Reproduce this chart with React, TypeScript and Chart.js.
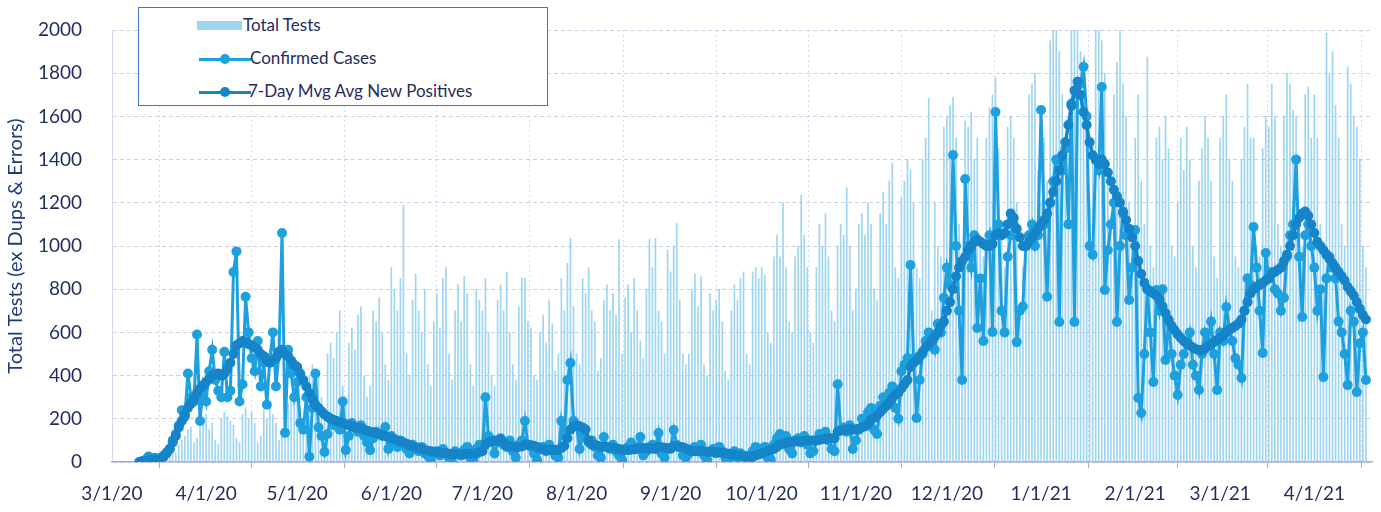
import React, { useEffect, useRef } from 'react';
import { Chart, registerables } from 'chart.js';

Chart.register(...registerables);

// x axis: day index counted from 3/1/20
const tickDays = [0, 31, 61, 92, 122, 153, 184, 214, 245, 275, 306, 337, 365, 396];
const tickLabels = ['3/1/20', '4/1/20', '5/1/20', '6/1/20', '7/1/20', '8/1/20', '9/1/20', '10/1/20', '11/1/20', '12/1/20', '1/1/21', '2/1/21', '3/1/21', '4/1/21'];
// first data day of each month block below (data begins 3/10/20)
const monthFirstDataDay = [9, 31, 61, 92, 122, 153, 184, 214, 245, 275, 306, 337, 365, 396];

const yTicks = [0, 200, 400, 600, 800, 1000, 1200, 1400, 1600, 1800, 2000];

const seriesNames = ['Total Tests', 'Confirmed Cases', '7-Day Mvg Avg New Positives'];

// daily values, one row per month (Mar 20 .. Apr 21)
const confirmedCases = [
  [0, 5, 10, 25, 15, 20, 10, 20, 30, 45, 60, 100, 130, 170, 240, 210, 410, 300, 280, 590, 190, 350],
  [280, 420, 520, 380, 330, 300, 510, 300, 330, 880, 975, 280, 360, 765, 600, 480, 420, 560, 350, 460, 265, 480, 600, 350, 500, 1060, 135, 520, 410, 300],
  [370, 180, 150, 300, 24, 250, 410, 160, 120, 46, 130, 200, 170, 180, 150, 280, 55, 120, 180, 160, 140, 170, 120, 90, 55, 110, 140, 130, 120, 162, 60],
  [120, 90, 70, 100, 80, 60, 40, 80, 60, 50, 70, 40, 30, 10, 40, 50, 30, 60, 40, 20, 0, 50, 40, 30, 55, 70, 20, 10, 60, 80],
  [60, 300, 120, 100, 40, 90, 110, 80, 70, 100, 50, 20, 80, 100, 190, 80, 70, 40, 10, 60, 70, 50, 80, 60, 30, 20, 190, 120, 380, 458, 190],
  [170, 60, 130, 110, 90, 100, 70, 30, 20, 116, 70, 60, 80, 50, 30, 10, 60, 70, 90, 60, 70, 116, 30, 50, 70, 80, 60, 134, 40, 20, 60],
  [60, 148, 80, 70, 30, 20, 40, 60, 70, 50, 80, 30, 10, 50, 60, 40, 70, 50, 20, 0, 30, 50, 20, 40, 30, 0, 5, 50, 70, 40],
  [60, 70, 20, 10, 80, 110, 130, 90, 120, 60, 40, 100, 110, 90, 120, 80, 40, 50, 100, 130, 120, 140, 100, 60, 50, 360, 150, 160, 140, 170, 60],
  [100, 150, 200, 180, 230, 250, 150, 130, 260, 300, 280, 320, 350, 250, 200, 420, 450, 480, 912, 480, 204, 380, 500, 560, 600, 580, 520, 640, 600, 760],
  [900, 820, 1421, 1000, 700, 380, 1310, 1000, 900, 1050, 620, 850, 560, 1000, 1050, 602, 1620, 1100, 700, 600, 950, 1050, 1100, 555, 700, 720, 1000, 1050, 1100, 1000, 1050],
  [1630, 1100, 765, 1200, 1300, 1400, 648, 1350, 1450, 1100, 1660, 648, 1700, 1750, 1830, 1600, 1000, 960, 1400, 1350, 1736, 796, 980, 1100, 1200, 648, 1000, 1150, 1050, 750, 900],
  [1074, 296, 227, 500, 800, 600, 370, 796, 700, 800, 472, 650, 500, 400, 310, 450, 500, 550, 600, 450, 400, 333, 500, 600, 550, 650, 500, 333],
  [600, 560, 718, 620, 560, 480, 450, 389, 700, 850, 820, 1088, 900, 700, 505, 968, 850, 880, 800, 780, 700, 760, 950, 1050, 1100, 1400, 950, 671, 1050, 1100, 1000],
  [900, 700, 800, 393, 850, 950, 900, 850, 650, 600, 500, 356, 700, 650, 324, 550, 600, 380],
];

const movingAvg = [
  [0, 2, 4, 8, 10, 12, 14, 18, 25, 40, 60, 90, 120, 160, 190, 220, 250, 270, 290, 320, 340, 355],
  [370, 385, 400, 405, 410, 400, 410, 430, 460, 500, 540, 550, 560, 555, 545, 540, 530, 520, 500, 490, 470, 460, 470, 480, 510, 520, 500, 490, 470, 450],
  [440, 410, 380, 350, 320, 290, 265, 250, 235, 220, 210, 200, 195, 190, 185, 180, 175, 170, 165, 160, 158, 155, 150, 145, 140, 137, 134, 130, 125, 120, 115],
  [110, 105, 100, 95, 90, 85, 78, 72, 68, 64, 60, 56, 52, 50, 48, 46, 44, 42, 40, 38, 36, 36, 35, 35, 36, 38, 38, 38, 40, 45],
  [50, 80, 90, 95, 100, 100, 105, 90, 75, 75, 72, 70, 70, 72, 80, 80, 78, 75, 70, 62, 58, 55, 55, 55, 55, 55, 65, 75, 110, 150, 165],
  [170, 165, 160, 150, 100, 80, 80, 75, 70, 72, 70, 68, 66, 62, 60, 55, 55, 55, 57, 58, 60, 65, 65, 63, 62, 62, 62, 70, 68, 66, 64],
  [64, 75, 72, 70, 68, 62, 55, 50, 50, 50, 52, 50, 48, 48, 47, 46, 45, 43, 40, 38, 35, 33, 30, 30, 28, 25, 25, 25, 30, 35],
  [40, 45, 50, 55, 60, 70, 80, 85, 90, 92, 95, 95, 95, 95, 100, 100, 100, 100, 100, 102, 105, 108, 110, 110, 110, 140, 145, 148, 150, 152, 150],
  [150, 155, 160, 165, 175, 195, 205, 215, 230, 245, 260, 275, 295, 310, 320, 340, 360, 380, 440, 460, 470, 490, 510, 530, 545, 560, 580, 600, 630, 650],
  [700, 740, 800, 860, 900, 930, 950, 980, 1000, 1020, 1030, 1020, 1010, 1000, 1000, 1010, 1050, 1060, 1050, 1060, 1100, 1150, 1130, 1080, 1040, 1000, 1000, 1020, 1040, 1060, 1080],
  [1100, 1120, 1150, 1200, 1250, 1300, 1350, 1420, 1480, 1560, 1650, 1720, 1760, 1700, 1620, 1560, 1480, 1420, 1400, 1380, 1400, 1380, 1340, 1300, 1260, 1230, 1200, 1160, 1120, 1080, 1040],
  [1000, 930, 870, 830, 800, 790, 780, 770, 750, 720, 690, 660, 630, 610, 590, 575, 560, 548, 538, 530, 522, 518, 520, 525, 535, 545, 555, 565],
  [575, 585, 600, 610, 620, 630, 640, 660, 700, 740, 780, 800, 810, 820, 830, 840, 850, 870, 880, 890, 900, 930, 960, 1000, 1050, 1100, 1130, 1150, 1160, 1140, 1100],
  [1060, 1020, 1000, 980, 960, 940, 920, 900, 880, 860, 840, 810, 790, 770, 740, 710, 680, 660],
];

const totalTests = [
  [0, 5, 10, 15, 10, 10, 20, 25, 30, 40, 50, 60, 40, 80, 100, 120, 150, 160, 90, 110, 200, 180],
  [220, 150, 180, 100, 80, 200, 230, 210, 190, 170, 110, 90, 220, 250, 200, 230, 180, 90, 120, 240, 200, 260, 220, 180, 100, 130, 250, 270, 300, 280],
  [400, 250, 200, 350, 400, 450, 380, 420, 300, 220, 500, 550, 480, 600, 700, 350, 280, 550, 620, 520, 680, 720, 400, 300, 350, 700, 650, 760, 600, 450, 380],
  [900, 800, 700, 850, 1190, 500, 400, 750, 870, 700, 600, 800, 450, 350, 650, 780, 620, 850, 900, 500, 380, 700, 820, 650, 860, 780, 450, 350, 800, 750],
  [700, 850, 600, 400, 350, 750, 820, 700, 880, 600, 450, 380, 720, 850, 850, 650, 620, 400, 380, 600, 680, 550, 750, 640, 420, 500, 850, 700, 920, 1036, 720],
  [500, 450, 850, 780, 900, 700, 650, 420, 480, 750, 820, 700, 780, 680, 1030, 500, 760, 820, 600, 850, 700, 560, 480, 800, 1030, 900, 1036, 700, 650, 500, 980],
  [880, 1000, 1105, 750, 500, 450, 500, 800, 870, 720, 857, 450, 400, 780, 700, 750, 800, 650, 420, 380, 700, 820, 750, 850, 880, 500, 450, 880, 900, 850],
  [900, 865, 600, 550, 950, 1050, 950, 1200, 900, 650, 600, 950, 1000, 1235, 1050, 900, 600, 550, 900, 1100, 1000, 1150, 950, 700, 650, 1000, 1100, 1050, 1270, 1000, 700],
  [800, 1100, 1150, 1050, 1200, 1100, 800, 750, 1150, 1250, 1100, 1300, 1384, 900, 850, 1222, 1300, 1400, 1350, 1200, 900, 850, 1400, 1500, 1685, 700, 1200, 1000, 950, 1550],
  [1600, 1650, 1690, 1500, 1100, 900, 1580, 1550, 1620, 1400, 1500, 1000, 950, 1500, 1640, 1700, 1780, 1450, 1050, 900, 1550, 1600, 1500, 1200, 700, 900, 1000, 1700, 1750, 1800, 1350],
  [1200, 1500, 1300, 1950, 2000, 2100, 1900, 1700, 1300, 1200, 2000, 2200, 2100, 1900, 1800, 1400, 1200, 1500, 2000, 2000, 1950, 1800, 1300, 1100, 1700, 1850, 2000, 1750, 1600, 1200, 1000],
  [1500, 1700, 1300, 1100, 1875, 1000, 900, 1500, 1550, 1400, 1600, 1450, 1000, 950, 1200, 1500, 1350, 1550, 1400, 1000, 900, 1300, 1450, 1600, 1500, 1300, 950, 850],
  [1500, 1600, 1700, 1400, 1300, 950, 900, 1400, 1550, 1750, 1500, 1500, 1000, 950, 1450, 1600, 1550, 1750, 1600, 1100, 1000, 1600, 1800, 1750, 1630, 1600, 1100, 1000, 1700, 1736, 1500],
  [1700, 1500, 1100, 1000, 1985, 1800, 1900, 1650, 1500, 1100, 1000, 1830, 1750, 1600, 1550, 1400, 1000, 900],
];

const BAR = 'rgba(140,206,240,0.85)';
const CASES = '#1e9fde';
const AVG = '#1584c8';
const NAVY = '#1f2c5c';
const FONT = 'Lato, "Open Sans", sans-serif';

function toPoints(months: number[][]) {
  const pts: { x: number; y: number }[] = [];
  months.forEach((vals, m) => {
    vals.forEach((v, i) => pts.push({ x: monthFirstDataDay[m] + i, y: v }));
  });
  return pts;
}

export default function App() {
  const ref = useRef<HTMLCanvasElement | null>(null);

  useEffect(() => {
    document.body.style.margin = '0';
    const canvas = ref.current;
    if (!canvas) return;
    const chart = new Chart(canvas, {
      type: 'bar',
      data: {
        datasets: [
          {
            type: 'line',
            label: seriesNames[2],
            data: toPoints(movingAvg),
            borderColor: AVG,
            backgroundColor: AVG,
            borderWidth: 3.5,
            pointRadius: 5,
            pointBorderWidth: 0,
            pointBackgroundColor: AVG,
            order: 0,
          },
          {
            type: 'line',
            label: seriesNames[1],
            data: toPoints(confirmedCases),
            borderColor: CASES,
            backgroundColor: CASES,
            borderWidth: 3,
            pointRadius: 5,
            pointBorderWidth: 0,
            pointBackgroundColor: CASES,
            order: 1,
          },
          {
            type: 'bar',
            label: seriesNames[0],
            data: toPoints(totalTests),
            backgroundColor: BAR,
            barThickness: 1,
            order: 2,
          },
        ] as any,
      },
      options: {
        responsive: false,
        animation: false,
        layout: { padding: { top: 30, right: 9, left: 0, bottom: 0 } },
        plugins: { legend: { display: false }, tooltip: { enabled: false } },
        scales: {
          x: {
            type: 'linear',
            min: 0,
            max: 415,
            offset: false,
            afterBuildTicks: (s: any) => {
              s.ticks = tickDays.map((v) => ({ value: v }));
            },
            afterFit: (s: any) => {
              s.height = 50;
            },
            ticks: {
              autoSkip: false,
              maxRotation: 0,
              minRotation: 0,
              padding: 14,
              color: NAVY,
              font: { family: FONT, size: 19 },
              callback: (v: any) => {
                const i = tickDays.indexOf(Number(v));
                return i >= 0 ? tickLabels[i] : '';
              },
            },
            grid: {
              color: 'rgba(185,185,225,0.55)',
              tickColor: 'rgba(160,160,215,0.9)',
              tickLength: 6,
              lineWidth: 1,
            },
            border: { display: true, color: 'rgba(160,160,215,0.9)', width: 1.5, dash: [2, 3] },
          },
          y: {
            min: 0,
            max: 2000,
            afterBuildTicks: (s: any) => {
              s.ticks = yTicks.map((v) => ({ value: v }));
            },
            afterFit: (s: any) => {
              s.width = 112;
            },
            ticks: {
              padding: 2,
              color: NAVY,
              font: { family: FONT, size: 19 },
              callback: (v: any) => String(v),
            },
            title: {
              display: true,
              text: 'Total Tests (ex Dups & Errors)',
              color: '#1e3a78',
              font: { family: FONT, size: 20 },
              padding: { top: 4, bottom: 0 },
            },
            grid: {
              drawTicks: true,
              tickLength: 28,
              tickColor: 'rgba(0,0,0,0)',
              color: 'rgba(185,185,220,0.7)',
              lineWidth: 1,
            },
            border: { display: true, color: 'rgba(185,185,225,0.6)', width: 1, dash: [4, 3] },
          },
        },
      } as any,
    });
    return () => chart.destroy();
  }, []);

  const textStyle: React.CSSProperties = {
    position: 'absolute',
    fontFamily: FONT,
    fontSize: 17,
    color: NAVY,
    lineHeight: '20px',
    whiteSpace: 'nowrap',
  };

  const lineSample = (top: number, color: string) => (
    <>
      <div style={{ position: 'absolute', left: 60, top: top - 1.5, width: 52, height: 3, background: color }} />
      <div style={{ position: 'absolute', left: 81, top: top - 5, width: 10, height: 10, borderRadius: 5, background: color }} />
    </>
  );

  return (
    <div style={{ position: 'fixed', left: 0, top: 0, width: 1381, height: 512, background: '#fff' }}>
      <canvas ref={ref} width={1381} height={512} style={{ display: 'block' }} />
      <div
        style={{
          position: 'absolute',
          left: 138,
          top: 7,
          width: 410,
          height: 99,
          border: '1.5px solid #3b78c4',
          boxSizing: 'border-box',
          background: '#fff',
        }}
      >
        <div style={{ position: 'absolute', left: 58, top: 13, width: 45, height: 9, background: BAR }} />
        <span style={{ ...textStyle, left: 104, top: 7 }}>{seriesNames[0]}</span>
        {lineSample(51, CASES)}
        <span style={{ ...textStyle, left: 111, top: 40 }}>{seriesNames[1]}</span>
        {lineSample(84, AVG)}
        <span style={{ ...textStyle, left: 109, top: 73 }}>{seriesNames[2]}</span>
      </div>
    </div>
  );
}
